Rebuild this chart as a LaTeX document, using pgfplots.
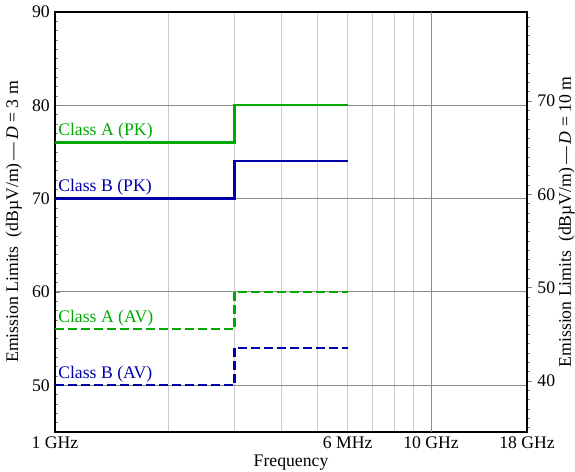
\documentclass[border=0pt]{standalone}
\usepackage{fontspec}
\setmainfont{Liberation Serif}
\usepackage{pgfplots}
\pgfplotsset{compat=1.18}
\definecolor{cgreen}{RGB}{0,170,0}
\definecolor{cblue}{RGB}{0,0,170}
\begin{document}
\begin{tikzpicture}[font=\fontsize{12}{14}\selectfont]
\begin{axis}[
  name=ax,
  scale only axis, width=320pt, height=284.7pt,
  xmode=log, xmin=1, xmax=18, ymin=45, ymax=90,
  /pgf/number format/assume math mode=true,
  xtick={1,6,10,18}, xticklabels={1 GHz,6 MHz,10 GHz,18 GHz},
  minor xtick={2,3,4,5,6,7,8,9},
  xminorgrids=true, xmajorgrids=false,
  extra x ticks={10}, extra x tick labels={},
  extra x tick style={grid=major, major grid style={gray!90, line width=0.6pt}},
  minor grid style={black!20, line width=0.6pt},
  x tick style={draw=none},
  ytick={50,60,70,80,90}, minor ytick={45,...,89},
  ymajorgrids=true, major grid style={gray!90, line width=0.6pt},
  ytick pos=left, xtick pos=bottom,
  tick align=inside,
  major tick length=3.5pt, minor tick length=2pt,
  axis line style={line width=1pt},
  xlabel={Frequency},
  ylabel={Emission Limits\ \ (dBµV/m)\,—\,\textit{D} = 3 m},
  xlabel style={yshift=3pt},
  dashpat/.style={dash pattern=on 6pt off 2.8pt},
]
\addplot[cgreen, line width=1.6pt] coordinates {(1,76)(3,76)(3,80)(6,80)};
\addplot[cblue, line width=1.6pt] coordinates {(1,70)(3,70)(3,74)(6,74)};
\addplot[cgreen, line width=1.6pt, dashpat] coordinates {(1,56)(3,56)(3,60)(6,60)};
\addplot[cblue, line width=1.6pt, dashpat] coordinates {(1,50)(3,50)(3,54)(6,54)};
\node[cgreen, anchor=south west, inner sep=2pt] at (axis cs:1,76) {Class A (PK)};
\node[cblue, anchor=south west, inner sep=2pt] at (axis cs:1,70) {Class B (PK)};
\node[cgreen, anchor=south west, inner sep=2pt] at (axis cs:1,56) {Class A (AV)};
\node[cblue, anchor=south west, inner sep=2pt] at (axis cs:1,50) {Class B (AV)};
\end{axis}
\begin{axis}[
  scale only axis, width=320pt, height=284.7pt,
  xmode=log, xmin=1, xmax=18, ymin=34.54, ymax=79.54,
  /pgf/number format/assume math mode=true,
  axis y line*=right, axis x line=none,
  ytick={40,50,60,70}, minor ytick={35,...,79},
  tick align=outside,
  major tick length=3.5pt, minor tick length=2pt,
  axis line style={line width=1pt},
  ylabel={Emission Limits\ \ (dBµV/m)\,—\,\textit{D} = 10 m},
  ylabel shift=-4.5pt,
]
\end{axis}
\pgfresetboundingbox
\path[use as bounding box] ([xshift=-37.3pt,yshift=-27.1pt]ax.south west) rectangle ([xshift=32.5pt,yshift=8.1pt]ax.north east);
\end{tikzpicture}
\end{document}
